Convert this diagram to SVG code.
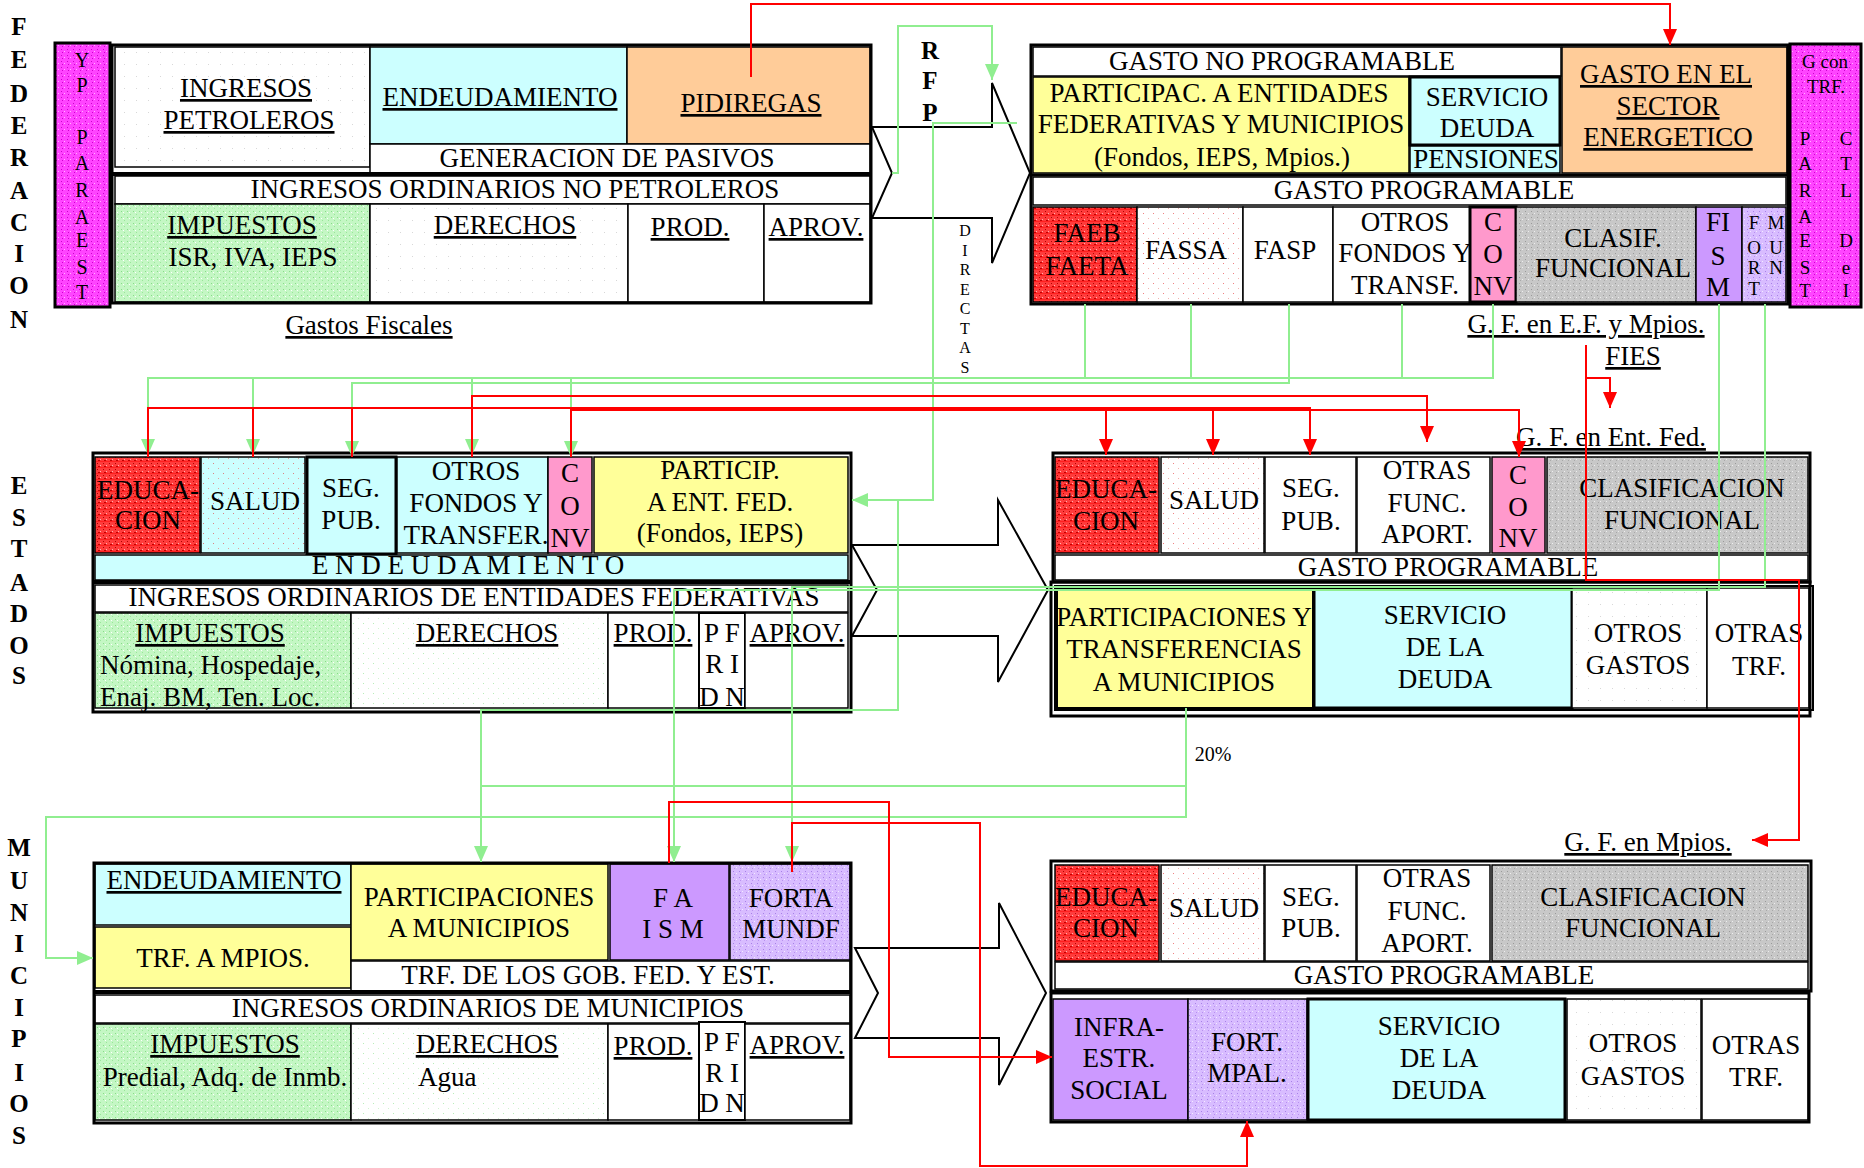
<svg xmlns="http://www.w3.org/2000/svg" width="1864" height="1168" viewBox="0 0 1864 1168">
<style>
.t{font-family:"Liberation Serif","Times New Roman",serif;font-size:27px;text-anchor:middle;fill:#000}
.l{text-anchor:start}
.u{text-decoration:underline}
.s{font-size:19px}
.xs{font-size:16px}
.b{font-weight:bold;font-size:25px}
.c{stroke:#000;stroke-width:1.5}
.ck{stroke:#000;stroke-width:3}
.box{fill:none;stroke:#000;stroke-width:3}
.arrow{fill:none;stroke:#000;stroke-width:2}
.g{fill:none;stroke:#90EE90;stroke-width:2}
.r{fill:none;stroke:#FF0000;stroke-width:2}
.cy{fill:#CCFFFF}.ye{fill:#FFFF99}.pe{fill:#FFCC99}.pk{fill:#FF99CC}.pu{fill:#CC99FF}.wh{fill:#FFFFFF}
</style>
<defs>
<pattern id="pRed" width="6" height="6" patternUnits="userSpaceOnUse"><rect width="6" height="6" fill="#FF3C3C"/><rect x="1" y="1" width="1" height="1" fill="#B00000"/><rect x="4" y="3" width="1" height="1" fill="#FFB0B0"/><rect x="2" y="4" width="2" height="1" fill="#C00000"/><rect x="0" y="5" width="6" height="1" fill="#FF2020"/></pattern>
<pattern id="pGreen" width="6" height="6" patternUnits="userSpaceOnUse"><rect width="6" height="6" fill="#C4F7C4"/><rect x="1" y="1" width="1" height="1" fill="#88DD88"/><rect x="4" y="4" width="1" height="1" fill="#99E699"/><rect x="3" y="2" width="1" height="1" fill="#FFFFFF"/></pattern>
<pattern id="pGray" width="6" height="6" patternUnits="userSpaceOnUse"><rect width="6" height="6" fill="#C8C8C8"/><rect x="1" y="1" width="1" height="1" fill="#9A9A9A"/><rect x="4" y="3" width="1" height="1" fill="#EEEEEE"/><rect x="2" y="4" width="1" height="1" fill="#A8A8A8"/></pattern>
<pattern id="pMag" width="6" height="6" patternUnits="userSpaceOnUse"><rect width="6" height="6" fill="#FF44FF"/><rect x="1" y="1" width="1" height="1" fill="#CC00CC"/><rect x="4" y="3" width="1" height="1" fill="#FFB0FF"/><rect x="2" y="4" width="1" height="1" fill="#D000D0"/></pattern>
<pattern id="pLpu" width="6" height="6" patternUnits="userSpaceOnUse"><rect width="6" height="6" fill="#D8BCFF"/><rect x="1" y="1" width="1" height="1" fill="#A880E8"/><rect x="4" y="3" width="1" height="1" fill="#F4EAFF"/><rect x="2" y="4" width="1" height="1" fill="#B890F0"/></pattern>
<pattern id="pDotR" width="10" height="10" patternUnits="userSpaceOnUse"><rect width="10" height="10" fill="#FFFFFF"/><rect x="3" y="3" width="1" height="1" fill="#F08080"/><rect x="8" y="8" width="1" height="1" fill="#F0B0B0"/></pattern>
<pattern id="pDotC" width="10" height="10" patternUnits="userSpaceOnUse"><rect width="10" height="10" fill="#CCFFFF"/><rect x="3" y="3" width="1" height="1" fill="#E08080"/><rect x="8" y="8" width="1" height="1" fill="#E0A0A0"/></pattern>
<pattern id="pDotG" width="10" height="10" patternUnits="userSpaceOnUse"><rect width="10" height="10" fill="#FFFFFF"/><rect x="3" y="3" width="1" height="1" fill="#B8EEB8"/><rect x="8" y="8" width="1" height="1" fill="#D0F4D0"/></pattern>
<pattern id="pDotW" width="12" height="12" patternUnits="userSpaceOnUse"><rect width="12" height="12" fill="#FFFFFF"/><rect x="4" y="4" width="1" height="1" fill="#D8D8D8"/></pattern>
<marker id="mr" viewBox="0 0 16 14" refX="16" refY="7" markerWidth="16" markerHeight="14" orient="auto" markerUnits="userSpaceOnUse"><path d="M0,0 L16,7 L0,14 Z" fill="#FF0000"/></marker>
<marker id="mg" viewBox="0 0 16 14" refX="16" refY="7" markerWidth="16" markerHeight="14" orient="auto" markerUnits="userSpaceOnUse"><path d="M0,0 L16,7 L0,14 Z" fill="#90EE90"/></marker>
</defs>
<rect width="1864" height="1168" fill="#FFFFFF"/>

<!-- Section labels -->
<g id="label-federacion" class="t b">
<text x="19" y="35">F</text><text x="19" y="68">E</text><text x="19" y="102">D</text><text x="19" y="134">E</text><text x="19" y="166">R</text><text x="19" y="199">A</text><text x="19" y="231">C</text><text x="19" y="262">I</text><text x="19" y="294">O</text><text x="19" y="328">N</text>
</g>
<g id="label-estados" class="t b">
<text x="19" y="494">E</text><text x="19" y="526">S</text><text x="19" y="557">T</text><text x="19" y="591">A</text><text x="19" y="622">D</text><text x="19" y="654">O</text><text x="19" y="684">S</text>
</g>
<g id="label-municipios" class="t b">
<text x="19" y="856">M</text><text x="19" y="889">U</text><text x="19" y="921">N</text><text x="19" y="952">I</text><text x="19" y="984">C</text><text x="19" y="1016">I</text><text x="19" y="1047">P</text><text x="19" y="1081">I</text><text x="19" y="1112">O</text><text x="19" y="1144">S</text>
</g>

<!-- Big block arrows -->
<g id="arrows-block">
<path class="arrow" d="M872,127 L992,127 L992,83 L1030,173 L992,263 L992,218 L872,218 L892,173 Z"/>
<path class="arrow" d="M852,545 L998,545 L998,500 L1048,590 L998,682 L998,636 L852,636 L877,590 Z"/>
<path class="arrow" d="M855,948 L999,948 L999,903 L1046,993 L999,1085 L999,1038 L855,1038 L878,993 Z"/>
</g>

<!-- FEDERACION left -->
<g id="fed-yp-paraest">
<rect x="55" y="43" width="55" height="264" fill="url(#pMag)" class="ck"/>
<g class="t" style="font-size:20px"><text x="82" y="67">Y</text><text x="82" y="92">P</text><text x="82" y="144">P</text><text x="82" y="170">A</text><text x="82" y="197">R</text><text x="82" y="224">A</text><text x="82" y="247">E</text><text x="82" y="274">S</text><text x="82" y="299">T</text></g>
</g>
<g id="fed-ingresos-petroleros"><rect x="115" y="47" width="255" height="120" fill="url(#pDotW)" class="c"/><text class="t u" x="246" y="97">INGRESOS</text><text class="t u" x="249" y="129">PETROLEROS</text></g>
<g id="fed-endeudamiento"><rect x="370" y="47" width="257" height="97" class="cy c"/><text class="t u" x="500" y="106">ENDEUDAMIENTO</text></g>
<g id="fed-pidiregas"><rect x="627" y="47" width="243" height="97" class="pe c"/><text class="t u" x="751" y="112">PIDIREGAS</text></g>
<g id="fed-generacion-pasivos"><rect x="370" y="144" width="500" height="29" class="wh c"/><text class="t" x="607" y="167">GENERACION DE PASIVOS</text></g>
<g id="fed-ingresos-ordinarios"><rect x="115" y="176" width="755" height="28" class="wh c"/><text class="t" x="515" y="198">INGRESOS ORDINARIOS NO PETROLEROS</text></g>
<g id="fed-impuestos"><rect x="115" y="204" width="255" height="98" fill="url(#pGreen)" class="c"/><text class="t u" x="242" y="234">IMPUESTOS</text><text class="t" x="253" y="266">ISR, IVA, IEPS</text></g>
<g id="fed-derechos"><rect x="370" y="204" width="258" height="98" fill="url(#pDotW)" class="c"/><text class="t u" x="505" y="234">DERECHOS</text></g>
<g id="fed-prod"><rect x="628" y="204" width="136" height="98" class="wh c"/><text class="t u" x="690" y="236">PROD.</text></g>
<g id="fed-aprov"><rect x="764" y="204" width="106" height="98" class="wh c"/><text class="t u" x="816" y="236">APROV.</text></g>
<g id="fed-left-frame"><rect x="112" y="45" width="759" height="258" class="box"/><line x1="112" y1="174" x2="871" y2="174" stroke="#000" stroke-width="4"/></g>
<g id="fed-gastos-fiscales"><text class="t u" x="369" y="334">Gastos Fiscales</text></g>

<!-- RFP and DIRECTAS -->
<g id="rfp"><g class="t b"><text x="930" y="59">R</text><text x="930" y="89">F</text><text x="930" y="121">P</text></g></g>
<g id="directas" class="t xs"><text x="965" y="236">D</text><text x="965" y="256">I</text><text x="965" y="275">R</text><text x="965" y="295">E</text><text x="965" y="314">C</text><text x="965" y="334">T</text><text x="965" y="353">A</text><text x="965" y="373">S</text></g>

<!-- FEDERACION right -->
<g id="fed-gasto-no-programable"><rect x="1033" y="47" width="528" height="29" class="wh c"/><text class="t" x="1282" y="70">GASTO NO PROGRAMABLE</text></g>
<g id="fed-participac"><rect x="1033" y="77" width="376" height="96" class="ye c"/><text class="t" x="1219" y="102">PARTICIPAC. A ENTIDADES</text><text class="t" x="1221" y="133">FEDERATIVAS Y MUNICIPIOS</text><text class="t" x="1222" y="166">(Fondos, IEPS, Mpios.)</text></g>
<g id="fed-servicio-deuda"><rect x="1410" y="77" width="150" height="68" class="cy ck"/><text class="t" x="1487" y="106">SERVICIO</text><text class="t" x="1487" y="137">DEUDA</text></g>
<g id="fed-pensiones"><rect x="1410" y="146" width="150" height="27" class="cy c"/><text class="t" x="1486" y="168">PENSIONES</text></g>
<g id="fed-gasto-energetico"><rect x="1562" y="47" width="225" height="126" class="pe c"/><text class="t u" x="1666" y="83">GASTO EN EL</text><text class="t u" x="1668" y="115">SECTOR</text><text class="t u" x="1668" y="146">ENERGETICO</text></g>
<g id="fed-gasto-programable"><rect x="1033" y="177" width="753" height="28" class="wh c"/><text class="t" x="1424" y="199">GASTO PROGRAMABLE</text></g>
<g id="fed-faeb"><rect x="1033" y="207" width="104" height="95" fill="url(#pRed)" class="c"/><text class="t" x="1087" y="242">FAEB</text><text class="t" x="1087" y="275">FAETA</text></g>
<g id="fed-fassa"><rect x="1137" y="207" width="106" height="95" fill="url(#pDotR)" class="c"/><text class="t" x="1186" y="259">FASSA</text></g>
<g id="fed-fasp"><rect x="1243" y="207" width="90" height="95" class="wh c"/><text class="t" x="1285" y="259">FASP</text></g>
<g id="fed-otros-fondos"><rect x="1333" y="207" width="137" height="95" class="wh c"/><text class="t" x="1405" y="231">OTROS</text><text class="t" x="1405" y="262">FONDOS Y</text><text class="t" x="1405" y="294">TRANSF.</text></g>
<g id="fed-conv"><rect x="1470" y="207" width="46" height="95" class="pk ck"/><text class="t" x="1493" y="231">C</text><text class="t" x="1493" y="263">O</text><text class="t" x="1493" y="295">NV</text></g>
<g id="fed-clasif"><rect x="1516" y="207" width="180" height="95" fill="url(#pGray)" class="c"/><text class="t" x="1613" y="247">CLASIF.</text><text class="t" x="1613" y="277">FUNCIONAL</text></g>
<g id="fed-fism"><rect x="1696" y="207" width="46" height="95" class="pu c"/><text class="t" x="1718" y="231">FI</text><text class="t" x="1718" y="265">S</text><text class="t" x="1718" y="296">M</text></g>
<g id="fed-fortamun" class="t s"><rect x="1742" y="207" width="44" height="95" fill="url(#pLpu)" class="c"/><text x="1754" y="229">F</text><text x="1776" y="229">M</text><text x="1754" y="254">O</text><text x="1776" y="254">U</text><text x="1754" y="274">R</text><text x="1776" y="274">N</text><text x="1754" y="295">T</text></g>
<g id="fed-right-frame"><rect x="1031" y="45" width="757" height="259" class="box"/><line x1="1031" y1="175" x2="1788" y2="175" stroke="#000" stroke-width="3"/></g>
<g id="fed-g-con-trf" class="t s">
<rect x="1790" y="44" width="71" height="263" fill="url(#pMag)" class="ck"/>
<text x="1825" y="68">G con</text><text x="1826" y="93">TRF.</text>
<text x="1805" y="145">P</text><text x="1805" y="170">A</text><text x="1805" y="197">R</text><text x="1805" y="223">A</text><text x="1805" y="247">E</text><text x="1805" y="274">S</text><text x="1805" y="297">T</text>
<text x="1846" y="145">C</text><text x="1846" y="170">T</text><text x="1846" y="197">L</text><text x="1846" y="247">D</text><text x="1846" y="274">e</text><text x="1846" y="297">I</text>
</g>
<g id="gf-ef-mpios"><text class="t u" x="1586" y="333">G. F. en E.F. y Mpios.</text></g>
<g id="fies"><text class="t u" x="1633" y="365">FIES</text></g>
<g id="gf-ent-fed"><text class="t u" x="1611" y="446">G. F. en Ent. Fed.</text></g>

<!-- ESTADOS left -->
<g id="est-educacion"><rect x="95" y="457" width="105" height="96" fill="url(#pRed)" class="c"/><text class="t" x="148" y="499">EDUCA-</text><text class="t" x="148" y="529">CION</text></g>
<g id="est-salud"><rect x="201" y="457" width="104" height="96" fill="url(#pDotC)" class="c"/><text class="t" x="255" y="510">SALUD</text></g>
<g id="est-seg-pub"><rect x="307" y="457" width="89" height="97" class="cy ck"/><text class="t" x="351" y="497">SEG.</text><text class="t" x="351" y="529">PUB.</text></g>
<g id="est-otros-fondos"><rect x="397" y="457" width="151" height="96" class="cy c"/><text class="t" x="476" y="480">OTROS</text><text class="t" x="476" y="512">FONDOS Y</text><text class="t" x="476" y="544">TRANSFER.</text></g>
<g id="est-conv"><rect x="548" y="457" width="44" height="96" class="pk c"/><text class="t" x="570" y="482">C</text><text class="t" x="570" y="515">O</text><text class="t" x="570" y="547">NV</text></g>
<g id="est-particip"><rect x="594" y="457" width="254" height="96" class="ye c"/><text class="t" x="720" y="479">PARTICIP.</text><text class="t" x="720" y="511">A ENT. FED.</text><text class="t" x="720" y="542">(Fondos, IEPS)</text></g>
<g id="est-endeudamiento"><rect x="95" y="555" width="753" height="25" class="cy c"/><text class="t" x="468" y="574">E N D E U D A M I E N T O</text></g>
<g id="est-ingresos-ordinarios"><rect x="95" y="585" width="753" height="27" class="wh c"/><text class="t" x="474" y="606">INGRESOS ORDINARIOS DE ENTIDADES FEDERATIVAS</text></g>
<g id="est-impuestos"><rect x="95" y="613" width="256" height="95" fill="url(#pGreen)" class="c"/><text class="t u" x="210" y="642">IMPUESTOS</text><text class="t l" x="100" y="674">Nómina, Hospedaje,</text><text class="t l" x="100" y="706">Enaj. BM, Ten. Loc.</text></g>
<g id="est-derechos"><rect x="351" y="613" width="257" height="95" fill="url(#pDotG)" class="c"/><text class="t u" x="487" y="642">DERECHOS</text></g>
<g id="est-prod"><rect x="608" y="613" width="91" height="95" class="wh c"/><text class="t u" x="653" y="642">PROD.</text></g>
<g id="est-pfridn"><rect x="699" y="613" width="46" height="95" class="wh" stroke="#000" stroke-width="2"/><text class="t" x="722" y="642">P F</text><text class="t" x="722" y="673">R I</text><text class="t" x="722" y="706">D N</text></g>
<g id="est-aprov"><rect x="745" y="613" width="103" height="95" class="wh c"/><text class="t u" x="797" y="642">APROV.</text></g>
<g id="est-left-frame"><rect x="93" y="453" width="758" height="259" class="box"/><line x1="93" y1="582" x2="851" y2="582" stroke="#000" stroke-width="4"/></g>

<!-- ESTADOS right -->
<g id="estr-educacion"><rect x="1055" y="457" width="104" height="96" fill="url(#pRed)" class="c"/><text class="t" x="1106" y="498">EDUCA-</text><text class="t" x="1106" y="530">CION</text></g>
<g id="estr-salud"><rect x="1161" y="457" width="103" height="96" fill="url(#pDotR)" class="c"/><text class="t" x="1214" y="509">SALUD</text></g>
<g id="estr-seg-pub"><rect x="1265" y="457" width="91" height="96" class="wh c"/><text class="t" x="1311" y="497">SEG.</text><text class="t" x="1311" y="530">PUB.</text></g>
<g id="estr-otras-func"><rect x="1357" y="457" width="133" height="96" class="wh c"/><text class="t" x="1427" y="479">OTRAS</text><text class="t" x="1427" y="512">FUNC.</text><text class="t" x="1427" y="543">APORT.</text></g>
<g id="estr-conv"><rect x="1492" y="457" width="53" height="96" class="pk c"/><text class="t" x="1518" y="484">C</text><text class="t" x="1518" y="516">O</text><text class="t" x="1518" y="547">NV</text></g>
<g id="estr-clasif"><rect x="1547" y="457" width="261" height="96" fill="url(#pGray)" class="c"/><text class="t" x="1682" y="497">CLASIFICACION</text><text class="t" x="1682" y="529">FUNCIONAL</text></g>
<g id="estr-gasto-programable"><rect x="1055" y="555" width="753" height="25" class="wh c"/><text class="t" x="1448" y="576">GASTO PROGRAMABLE</text></g>
<g id="estr-top-frame"><rect x="1053" y="453" width="757" height="129" class="box"/></g>
<g id="estr-part-transf"><rect x="1057" y="588" width="256" height="120" class="ye" stroke="#000" stroke-width="2"/><text class="t" x="1184" y="626">PARTICIPACIONES Y</text><text class="t" x="1184" y="658">TRANSFERENCIAS</text><text class="t" x="1184" y="691">A MUNICIPIOS</text></g>
<g id="estr-servicio-deuda"><rect x="1314" y="588" width="258" height="120" class="cy ck"/><text class="t" x="1445" y="624">SERVICIO</text><text class="t" x="1445" y="656">DE LA</text><text class="t" x="1445" y="688">DEUDA</text></g>
<g id="estr-otros-gastos"><rect x="1572" y="588" width="135" height="120" fill="url(#pDotW)" class="c"/><text class="t" x="1638" y="642">OTROS</text><text class="t" x="1638" y="674">GASTOS</text></g>
<g id="estr-otras-trf"><rect x="1707" y="588" width="102" height="120" class="wh c"/><text class="t" x="1759" y="642">OTRAS</text><text class="t" x="1759" y="675">TRF.</text></g>
<g id="estr-bottom-frame"><rect x="1051" y="582" width="759" height="134" class="box"/><rect x="1055" y="586" width="758" height="124" fill="none" stroke="#000" stroke-width="2"/></g>

<!-- MUNICIPIOS left -->
<g id="mun-endeudamiento"><rect x="95" y="864" width="256" height="61" class="cy c"/><text class="t u" x="224" y="889">ENDEUDAMIENTO</text></g>
<g id="mun-trf-mpios"><rect x="95" y="927" width="256" height="61" class="ye c"/><text class="t" x="223" y="967">TRF. A MPIOS.</text></g>
<g id="mun-participaciones"><rect x="351" y="864" width="257" height="96" class="ye c"/><text class="t" x="479" y="906">PARTICIPACIONES</text><text class="t" x="479" y="937">A MUNICIPIOS</text></g>
<g id="mun-faism"><rect x="610" y="864" width="119" height="96" class="pu c"/><text class="t" x="673" y="907">F A</text><text class="t" x="673" y="938">I S M</text></g>
<g id="mun-fortamundf"><rect x="730" y="864" width="120" height="96" fill="url(#pLpu)" class="c"/><text class="t" x="791" y="907">FORTA</text><text class="t" x="791" y="938">MUNDF</text></g>
<g id="mun-trf-gob"><rect x="351" y="961" width="499" height="30" class="wh c"/><text class="t" x="588" y="984">TRF. DE LOS GOB. FED. Y EST.</text></g>
<g id="mun-ingresos-ordinarios"><rect x="95" y="995" width="755" height="28" class="wh c"/><text class="t" x="488" y="1017">INGRESOS ORDINARIOS DE MUNICIPIOS</text></g>
<g id="mun-impuestos"><rect x="95" y="1024" width="256" height="96" fill="url(#pGreen)" class="c"/><text class="t u" x="225" y="1053">IMPUESTOS</text><text class="t" x="225" y="1086">Predial, Adq. de Inmb.</text></g>
<g id="mun-derechos"><rect x="351" y="1024" width="257" height="96" fill="url(#pDotG)" class="c"/><text class="t u" x="487" y="1053">DERECHOS</text><text class="t l" x="418" y="1086">Agua</text></g>
<g id="mun-prod"><rect x="608" y="1024" width="91" height="96" class="wh c"/><text class="t u" x="653" y="1055">PROD.</text></g>
<g id="mun-pfridn"><rect x="699" y="1022" width="46" height="98" class="wh" stroke="#000" stroke-width="2"/><text class="t" x="722" y="1051">P F</text><text class="t" x="722" y="1082">R I</text><text class="t" x="722" y="1112">D N</text></g>
<g id="mun-aprov"><rect x="745" y="1024" width="105" height="96" class="wh c"/><text class="t u" x="797" y="1054">APROV.</text></g>
<g id="mun-left-frame"><rect x="94" y="863" width="757" height="260" class="box"/><line x1="94" y1="992" x2="851" y2="992" stroke="#000" stroke-width="4"/></g>

<!-- MUNICIPIOS right -->
<g id="munr-educacion"><rect x="1055" y="865" width="104" height="96" fill="url(#pRed)" class="c"/><text class="t" x="1106" y="906">EDUCA-</text><text class="t" x="1106" y="937">CION</text></g>
<g id="munr-salud"><rect x="1161" y="865" width="103" height="96" fill="url(#pDotR)" class="c"/><text class="t" x="1214" y="917">SALUD</text></g>
<g id="munr-seg-pub"><rect x="1265" y="865" width="91" height="96" class="wh c"/><text class="t" x="1311" y="906">SEG.</text><text class="t" x="1311" y="937">PUB.</text></g>
<g id="munr-otras-func"><rect x="1357" y="865" width="133" height="96" class="wh c"/><text class="t" x="1427" y="887">OTRAS</text><text class="t" x="1427" y="920">FUNC.</text><text class="t" x="1427" y="952">APORT.</text></g>
<g id="munr-clasif"><rect x="1492" y="865" width="316" height="96" fill="url(#pGray)" class="c"/><text class="t" x="1643" y="906">CLASIFICACION</text><text class="t" x="1643" y="937">FUNCIONAL</text></g>
<g id="munr-gasto-programable"><rect x="1055" y="962" width="753" height="27" class="wh c"/><text class="t" x="1444" y="984">GASTO PROGRAMABLE</text></g>
<g id="munr-top-frame"><rect x="1051" y="861" width="760" height="130" class="box"/></g>
<g id="munr-infra"><rect x="1053" y="999" width="135" height="121" class="pu c"/><text class="t" x="1119" y="1036">INFRA-</text><text class="t" x="1119" y="1067">ESTR.</text><text class="t" x="1119" y="1099">SOCIAL</text></g>
<g id="munr-fort-mpal"><rect x="1188" y="999" width="119" height="121" fill="url(#pLpu)" class="c"/><text class="t" x="1247" y="1051">FORT.</text><text class="t" x="1247" y="1082">MPAL.</text></g>
<g id="munr-servicio-deuda"><rect x="1308" y="999" width="257" height="121" class="cy ck"/><text class="t" x="1439" y="1035">SERVICIO</text><text class="t" x="1439" y="1067">DE LA</text><text class="t" x="1439" y="1099">DEUDA</text></g>
<g id="munr-otros-gastos"><rect x="1567" y="999" width="134" height="121" fill="url(#pDotW)" class="c"/><text class="t" x="1633" y="1052">OTROS</text><text class="t" x="1633" y="1085">GASTOS</text></g>
<g id="munr-otras-trf"><rect x="1702" y="999" width="106" height="121" class="wh c"/><text class="t" x="1756" y="1054">OTRAS</text><text class="t" x="1756" y="1086">TRF.</text></g>
<g id="munr-bottom-frame"><rect x="1051" y="993" width="758" height="129" class="box"/></g>
<g id="gf-mpios"><text class="t u" x="1648" y="851">G. F. en Mpios.</text></g>
<g id="pct-20"><text class="t" style="font-size:20px" x="1213" y="761">20%</text></g>

<!-- Connectors -->
<g id="connectors">
<path class="g" d="M892,173 H898 V26 H992 V80" marker-end="url(#mg)"/>
<path class="g" d="M1017,123 H933 V500 H852" marker-end="url(#mg)"/>
<path class="g" d="M898,500 V710 H481 V862" marker-end="url(#mg)"/>
<path class="g" d="M1186,708 V817 H46 V958 H93" marker-end="url(#mg)"/>
<path class="g" d="M1186,786 H481"/>
<path class="g" d="M1085,304 V378 H148 V455" marker-end="url(#mg)"/>
<path class="g" d="M1191,304 V378 H253 V455" marker-end="url(#mg)"/>
<path class="g" d="M1289,304 V383 H352 V457" marker-end="url(#mg)"/>
<path class="g" d="M1402,304 V378 H472 V455" marker-end="url(#mg)"/>
<path class="g" d="M1493,304 V378 H571 V457" marker-end="url(#mg)"/>
<path class="g" d="M1719,304 V590 H674 V862" marker-end="url(#mg)"/>
<path class="g" d="M1765,304 V587 H792 V862" marker-end="url(#mg)"/>
<path class="r" d="M751,77 V4 H1670 V45" marker-end="url(#mr)"/>
<path class="r" d="M148,457 V408 H1106 V455" marker-end="url(#mr)"/>
<path class="r" d="M253,457 V408 H1213 V455" marker-end="url(#mr)"/>
<path class="r" d="M352,457 V408 H1310 V455" marker-end="url(#mr)"/>
<path class="r" d="M472,457 V396 H1427 V442" marker-end="url(#mr)"/>
<path class="r" d="M571,457 V410 H1519 V457" marker-end="url(#mr)"/>
<path class="r" d="M1586,345 V580 H1799 V840 H1752" marker-end="url(#mr)"/>
<path class="r" d="M1586,378 H1610 V408" marker-end="url(#mr)"/>
<path class="r" d="M669,863 V802 H889 V1057 H1052" marker-end="url(#mr)"/>
<path class="r" d="M792,872 V823 H980 V1166 H1247 V1121" marker-end="url(#mr)"/>
</g>
</svg>
